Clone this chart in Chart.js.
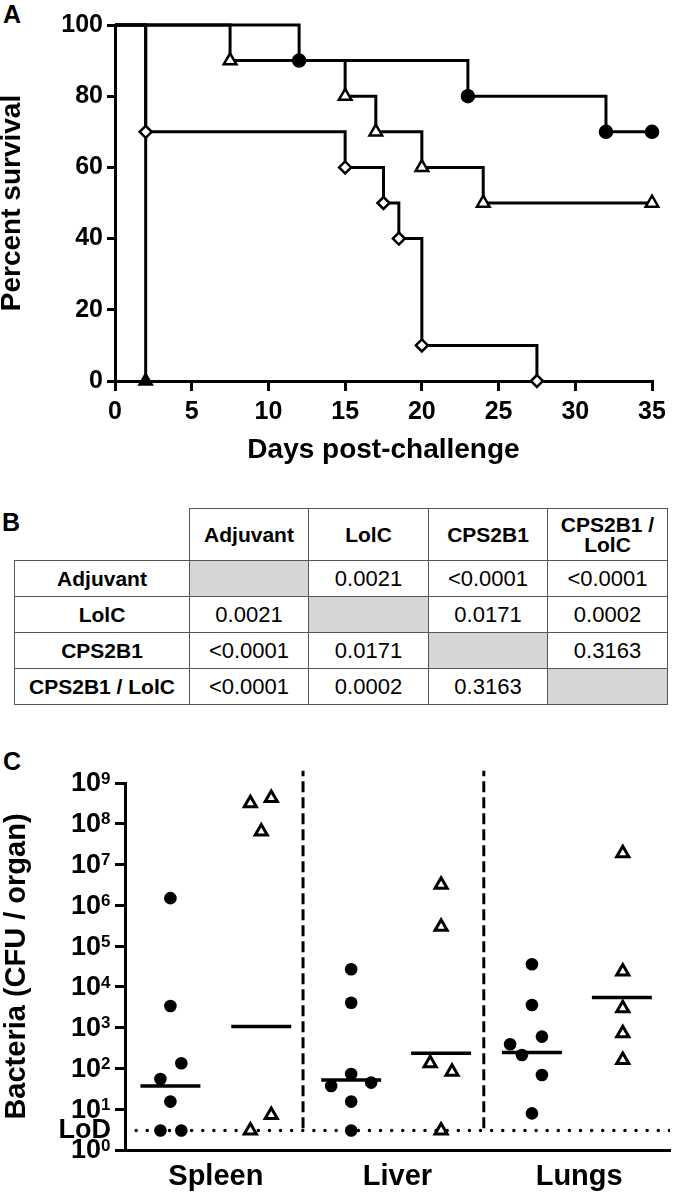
<!DOCTYPE html>
<html>
<head>
<meta charset="utf-8">
<script src="https://cdn.jsdelivr.net/npm/chart.js@4.4.0/dist/chart.umd.min.js"></script>
<style>
  body { margin: 0; width: 680px; height: 1196px; background: #fff; position: relative; overflow: hidden;
         font-family: "Liberation Sans", Arial, sans-serif; color: #000; }
  .letter { position: absolute; font-weight: bold; font-size: 25px; line-height: 1; }
  #canvasA { position: absolute; left: 0; top: 0; }
  #canvasC { position: absolute; left: 0; top: 740px; }
  #tblB { position: absolute; left: 14px; top: 508px; border-collapse: collapse; table-layout: fixed; width: 653px; }
  #tblB th, #tblB td { border: 1.5px solid #555; text-align: center; padding: 0; }
  #tblB th { font-weight: bold; font-size: 21px; line-height: 20px; height: 51px; }
  #tblB td { font-size: 22px; height: 35px; }
  #tblB td.rowhead { font-weight: bold; font-size: 21px; }
  #tblB .corner { border-top: none; border-left: none; }
  #tblB .diag { background: #d6d6d6; }
</style>
</head>
<body>
<div class="letter" style="left:3px;top:2px">A</div>
<div class="letter" style="left:2px;top:510px">B</div>
<div class="letter" style="left:3px;top:749px">C</div>

<canvas id="canvasA" width="680" height="480"></canvas>
<table id="tblB"></table>
<canvas id="canvasC" width="680" height="456"></canvas>

<script>
// --- A: survival curves ---
const daysCpsLolc = [0, 12, 23, 32, 35];
const survCpsLolc = [100, 90, 80, 70, 70];
const daysCps = [0, 7.5, 15, 17, 20, 24, 35];
const survCps = [100, 90, 80, 70, 60, 50, 50];
const daysLolc = [0, 2, 15, 17.5, 18.5, 20, 27.5];
const survLolc = [100, 70, 60, 50, 40, 10, 0];
const daysAdj = [0, 2];
const survAdj = [100, 0];

// --- B: p values ---
const groupNames = ['Adjuvant', 'LolC', 'CPS2B1', 'CPS2B1 / LolC'];
const pAdj = ['', '0.0021', '<0.0001', '<0.0001'];
const pLolc = ['0.0021', '', '0.0171', '0.0002'];
const pCps = ['<0.0001', '0.0171', '', '0.3163'];
const pCpsLolc = ['<0.0001', '0.0002', '0.3163', ''];

// --- C: bacterial burden ---
const organs = ['Spleen', 'Liver', 'Lungs'];
const organPos = [1, 3, 5];
const expTicks = [0, 1, 2, 3, 4, 5, 6, 7, 8, 9];
const lodValue = 3;
const dividerPos = [1.96, 3.95];
const dividerTop = 2e9;
const circX = [0.50, 0.50, 0.62, 0.39, 0.50, 0.39, 0.62,
               2.49, 2.49, 2.49, 2.27, 2.71, 2.49, 2.49,
               4.48, 4.48, 4.59, 4.24, 4.37, 4.59, 4.48];
const circY = [1.5e6, 3.4e3, 134, 55, 15.4, 3, 3,
               2.7e4, 4.1e3, 73, 37, 45, 15.4, 3,
               3.6e4, 3.6e3, 603, 392, 214, 69, 7.9];
const triX = [1.38, 1.61, 1.50, 1.61, 1.38,
              3.48, 3.48, 3.36, 3.60, 3.48,
              5.48, 5.48, 5.48, 5.48, 5.48];
const triY = [3.2e8, 4.3e8, 6.5e7, 7.2, 3,
              3.2e6, 3.0e5, 134, 83, 3,
              1.9e7, 2.4e4, 3.0e3, 730, 162];
const medX0 = [0.17, 1.17, 2.16, 3.15, 4.15, 5.14];
const medX1 = [0.83, 1.83, 2.82, 3.81, 4.81, 5.80];
const medY = [37, 1070, 52, 235, 245, 5500];

const FONT = '"Liberation Sans", Arial, sans-serif';
const pts = (xs, ys) => xs.map((x, i) => ({ x: x, y: ys[i] }));

// first point of a KM curve has no symbol
function kmSet(xs, ys, style, fill, r) {
    return {
        data: pts(xs, ys),
        showLine: true,
        stepped: 'before',
        borderColor: '#000',
        borderWidth: 3,
        pointStyle: style,
        pointRadius: xs.map((x, i) => i === 0 ? 0 : r),
        pointBackgroundColor: fill,
        pointBorderColor: '#000',
        pointBorderWidth: 2.5,
        clip: false
    };
}

new Chart(document.getElementById('canvasA'), {
    type: 'scatter',
    data: {
        datasets: [
            kmSet(daysCpsLolc, survCpsLolc, 'circle', '#000', 6),
            kmSet(daysCps, survCps, 'triangle', '#fff', 7.3),
            kmSet(daysLolc, survLolc, 'rectRot', '#fff', 6),
            kmSet(daysAdj, survAdj, 'triangle', '#000', 7)
        ]
    },
    options: {
        responsive: false,
        animation: false,
        layout: { padding: { left: 0, top: 25, right: 28, bottom: 0 } },
        plugins: { legend: { display: false }, tooltip: { enabled: false } },
        scales: {
            x: {
                type: 'linear', min: 0, max: 35,
                afterFit: s => { s.height = 99; },
                border: { color: '#000', width: 3 },
                grid: { drawOnChartArea: false, color: '#000', lineWidth: 3, tickLength: 10 },
                ticks: { stepSize: 5, color: '#000', padding: 6, font: { family: FONT, size: 25, weight: 'bold' } },
                title: { display: true, text: 'Days post-challenge', color: '#000',
                         padding: { top: 0, bottom: 13 }, font: { family: FONT, size: 28, weight: 'bold' } }
            },
            y: {
                type: 'linear', min: 0, max: 100,
                afterFit: s => { s.width = 115; },
                border: { color: '#000', width: 3 },
                grid: { drawOnChartArea: false, color: '#000', lineWidth: 3, tickLength: 8 },
                ticks: { stepSize: 20, color: '#000', padding: 4, font: { family: FONT, size: 25, weight: 'bold' } },
                title: { display: true, text: 'Percent survival', color: '#000',
                         padding: { top: 0, bottom: 0 }, font: { family: FONT, size: 28, weight: 'bold', lineHeight: 0.9 } }
            }
        }
    }
});

// table B
(function () {
    const tbl = document.getElementById('tblB');
    const widths = [175, 119, 120, 119, 120];
    let html = '<colgroup>' + widths.map(w => `<col style="width:${w}px">`).join('') + '</colgroup>';
    html += '<tr><th class="corner"></th>' + groupNames.map(g => `<th>${g}</th>`).join('') + '</tr>';
    const rows = [pAdj, pLolc, pCps, pCpsLolc];
    rows.forEach((row, r) => {
        html += `<tr><td class="rowhead">${groupNames[r]}</td>`;
        row.forEach((v, c) => {
            html += c === r ? '<td class="diag"></td>' : `<td>${v.replace('<', '&lt;')}</td>`;
        });
        html += '</tr>';
    });
    tbl.innerHTML = html;
})();

// y labels as 10^n plus LoD marker
const expLabels = {
    id: 'expLabels',
    afterDraw(chart) {
        const ys = chart.scales.y;
        const ctx = chart.ctx;
        ctx.save();
        ctx.fillStyle = '#000';
        ctx.textBaseline = 'middle';
        expTicks.forEach(p => {
            const py = ys.getPixelForValue(Math.pow(10, p));
            ctx.font = 'bold 27px ' + FONT;
            ctx.textAlign = 'right';
            ctx.fillText('10', 101, py + 1);
            ctx.font = 'bold 17px ' + FONT;
            ctx.textAlign = 'left';
            ctx.fillText(String(p), 101, py - 4);
        });
        ctx.font = 'bold 27px ' + FONT;
        ctx.textAlign = 'right';
        ctx.fillText('LoD', 111, ys.getPixelForValue(lodValue));
        ctx.restore();
    }
};

const cSets = [];
cSets.push({
    data: [{ x: 0, y: lodValue }, { x: 6, y: lodValue }],
    showLine: true, pointRadius: 0, borderColor: '#000', borderWidth: 3.5,
    borderDash: [0.01, 11.1], borderCapStyle: 'round', order: 6
});
dividerPos.forEach(x => cSets.push({
    data: [{ x: x, y: 3.4 }, { x: x, y: dividerTop }],
    showLine: true, pointRadius: 0, borderColor: '#000', borderWidth: 3,
    borderDash: [11, 5], order: 5, clip: false
}));
medY.forEach((m, i) => cSets.push({
    data: [{ x: medX0[i], y: m }, { x: medX1[i], y: m }],
    showLine: true, pointRadius: 0, borderColor: '#000', borderWidth: 3.5, order: 4
}));
cSets.push({
    data: pts(circX, circY), pointStyle: 'circle', pointRadius: 6.3,
    pointBackgroundColor: '#000', pointBorderWidth: 0, order: 1, clip: false
});
cSets.push({
    data: pts(triX, triY), pointStyle: 'triangle', pointRadius: 7,
    pointBackgroundColor: '#fff', pointBorderColor: '#000', pointBorderWidth: 3, order: 1, clip: false
});

new Chart(document.getElementById('canvasC'), {
    type: 'scatter',
    data: { datasets: cSets },
    plugins: [expLabels],
    options: {
        responsive: false,
        animation: false,
        layout: { padding: { left: 0, top: 43, right: 0, bottom: 0 } },
        plugins: { legend: { display: false }, tooltip: { enabled: false } },
        scales: {
            x: {
                type: 'linear', min: 0, max: 6,
                afterFit: s => { s.height = 46; },
                afterBuildTicks: s => { s.ticks = organPos.map(v => ({ value: v })); },
                border: { color: '#000', width: 3 },
                grid: { drawOnChartArea: false, drawTicks: false },
                ticks: { color: '#000', padding: 10, autoSkip: false, maxRotation: 0,
                         callback: v => organs[organPos.indexOf(v)],
                         font: { family: FONT, size: 29, weight: 'bold' } }
            },
            y: {
                type: 'logarithmic', min: 1, max: 1e9,
                afterFit: s => { s.width = 125; },
                afterBuildTicks: s => { s.ticks = expTicks.map(p => ({ value: Math.pow(10, p) })); },
                border: { color: '#000', width: 3 },
                grid: { drawOnChartArea: false, color: '#000', lineWidth: 3, tickLength: 10 },
                ticks: { autoSkip: false, color: 'rgba(0,0,0,0)', callback: () => '' },
                title: { display: true, text: 'Bacteria (CFU / organ)', color: '#000',
                         padding: { top: 2, bottom: 0 }, font: { family: FONT, size: 29, weight: 'bold', lineHeight: 1 } }
            }
        }
    }
});
</script>
</body>
</html>
